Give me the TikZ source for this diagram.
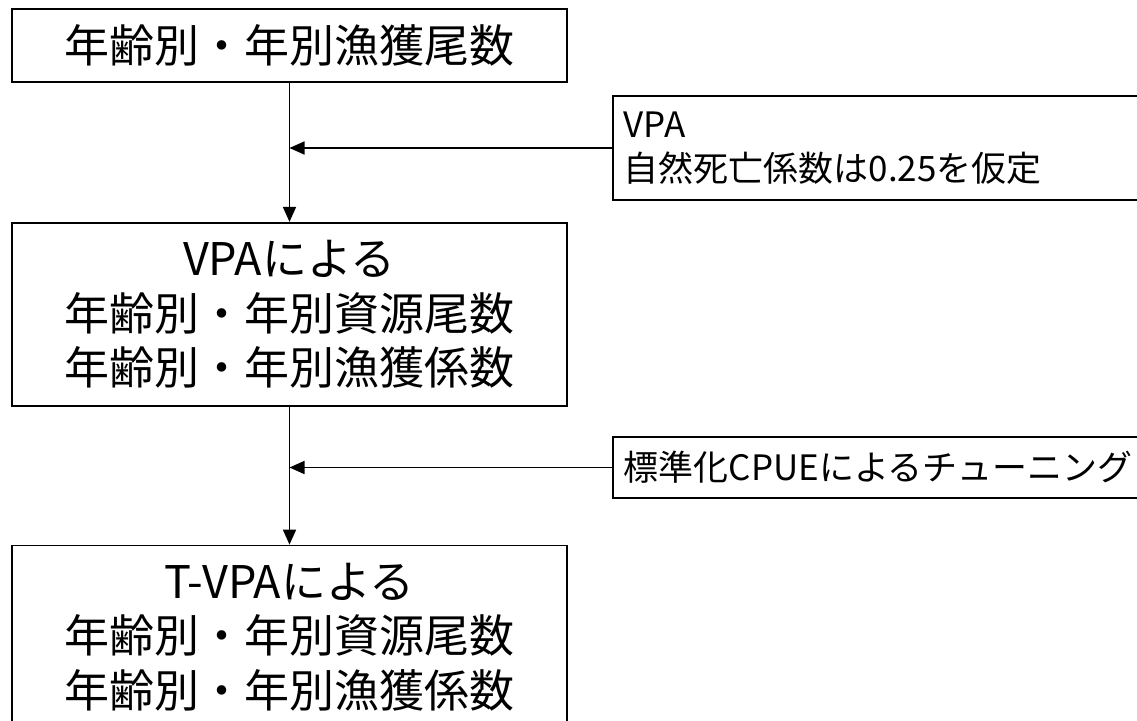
\documentclass[tikz,border=0pt]{standalone}
\usepackage{fontspec}
\setmainfont{Noto Sans CJK JP}
\usepackage{tikz}
\usetikzlibrary{positioning}
\usetikzlibrary{arrows.meta}
\tikzstyle{result} = [rectangle, minimum width=11.1cm, minimum height=3.66cm, text centered, align=center, draw=black, line width=1pt, font=\fontsize{25.6}{31}\selectfont]
\tikzstyle{note} = [rectangle, minimum width=10.8cm, text width=10.36cm, inner xsep=0.2cm, align=left, draw=black, line width=1pt, font=\fontsize{19.9}{25}\selectfont]
\tikzstyle{arrow} = [line width=1pt,-{Triangle[length=0.3cm,width=0.26cm]}]

\begin{document}
\begin{tikzpicture}
	\useasboundingbox (0,0) rectangle (22.74,-14.4);
	\clip (0,0) rectangle (22.74,-14.4);
	\node (catch) [result, minimum height=1.46cm] at (5.79,-0.91) {年齢別・年別漁獲尾数};
	\node (vpa) [result, below=2.78cm of catch] {VPAによる\\年齢別・年別資源尾数\\年齢別・年別漁獲係数};
	\node (tvpa) [result, below=2.76cm of vpa] {T-VPAによる\\年齢別・年別資源尾数\\年齢別・年別漁獲係数};
	\node (mnote) [note, anchor=west, minimum height=2.08cm] at (12.24,-2.96) {VPA\\自然死亡係数は0.25を仮定};
	\node (cpue) [note, anchor=west, minimum height=1.22cm] at (12.24,-9.35) {標準化CPUEによるチューニング};
	%lines
	\draw [arrow] (catch) -- (vpa);
	\draw [arrow] (vpa) -- (tvpa);
	\draw [arrow] (mnote.west) -- (mnote.west -| catch.south);
	\draw [arrow] (cpue.west) -- (cpue.west -| vpa.south);
\end{tikzpicture}
\end{document}
